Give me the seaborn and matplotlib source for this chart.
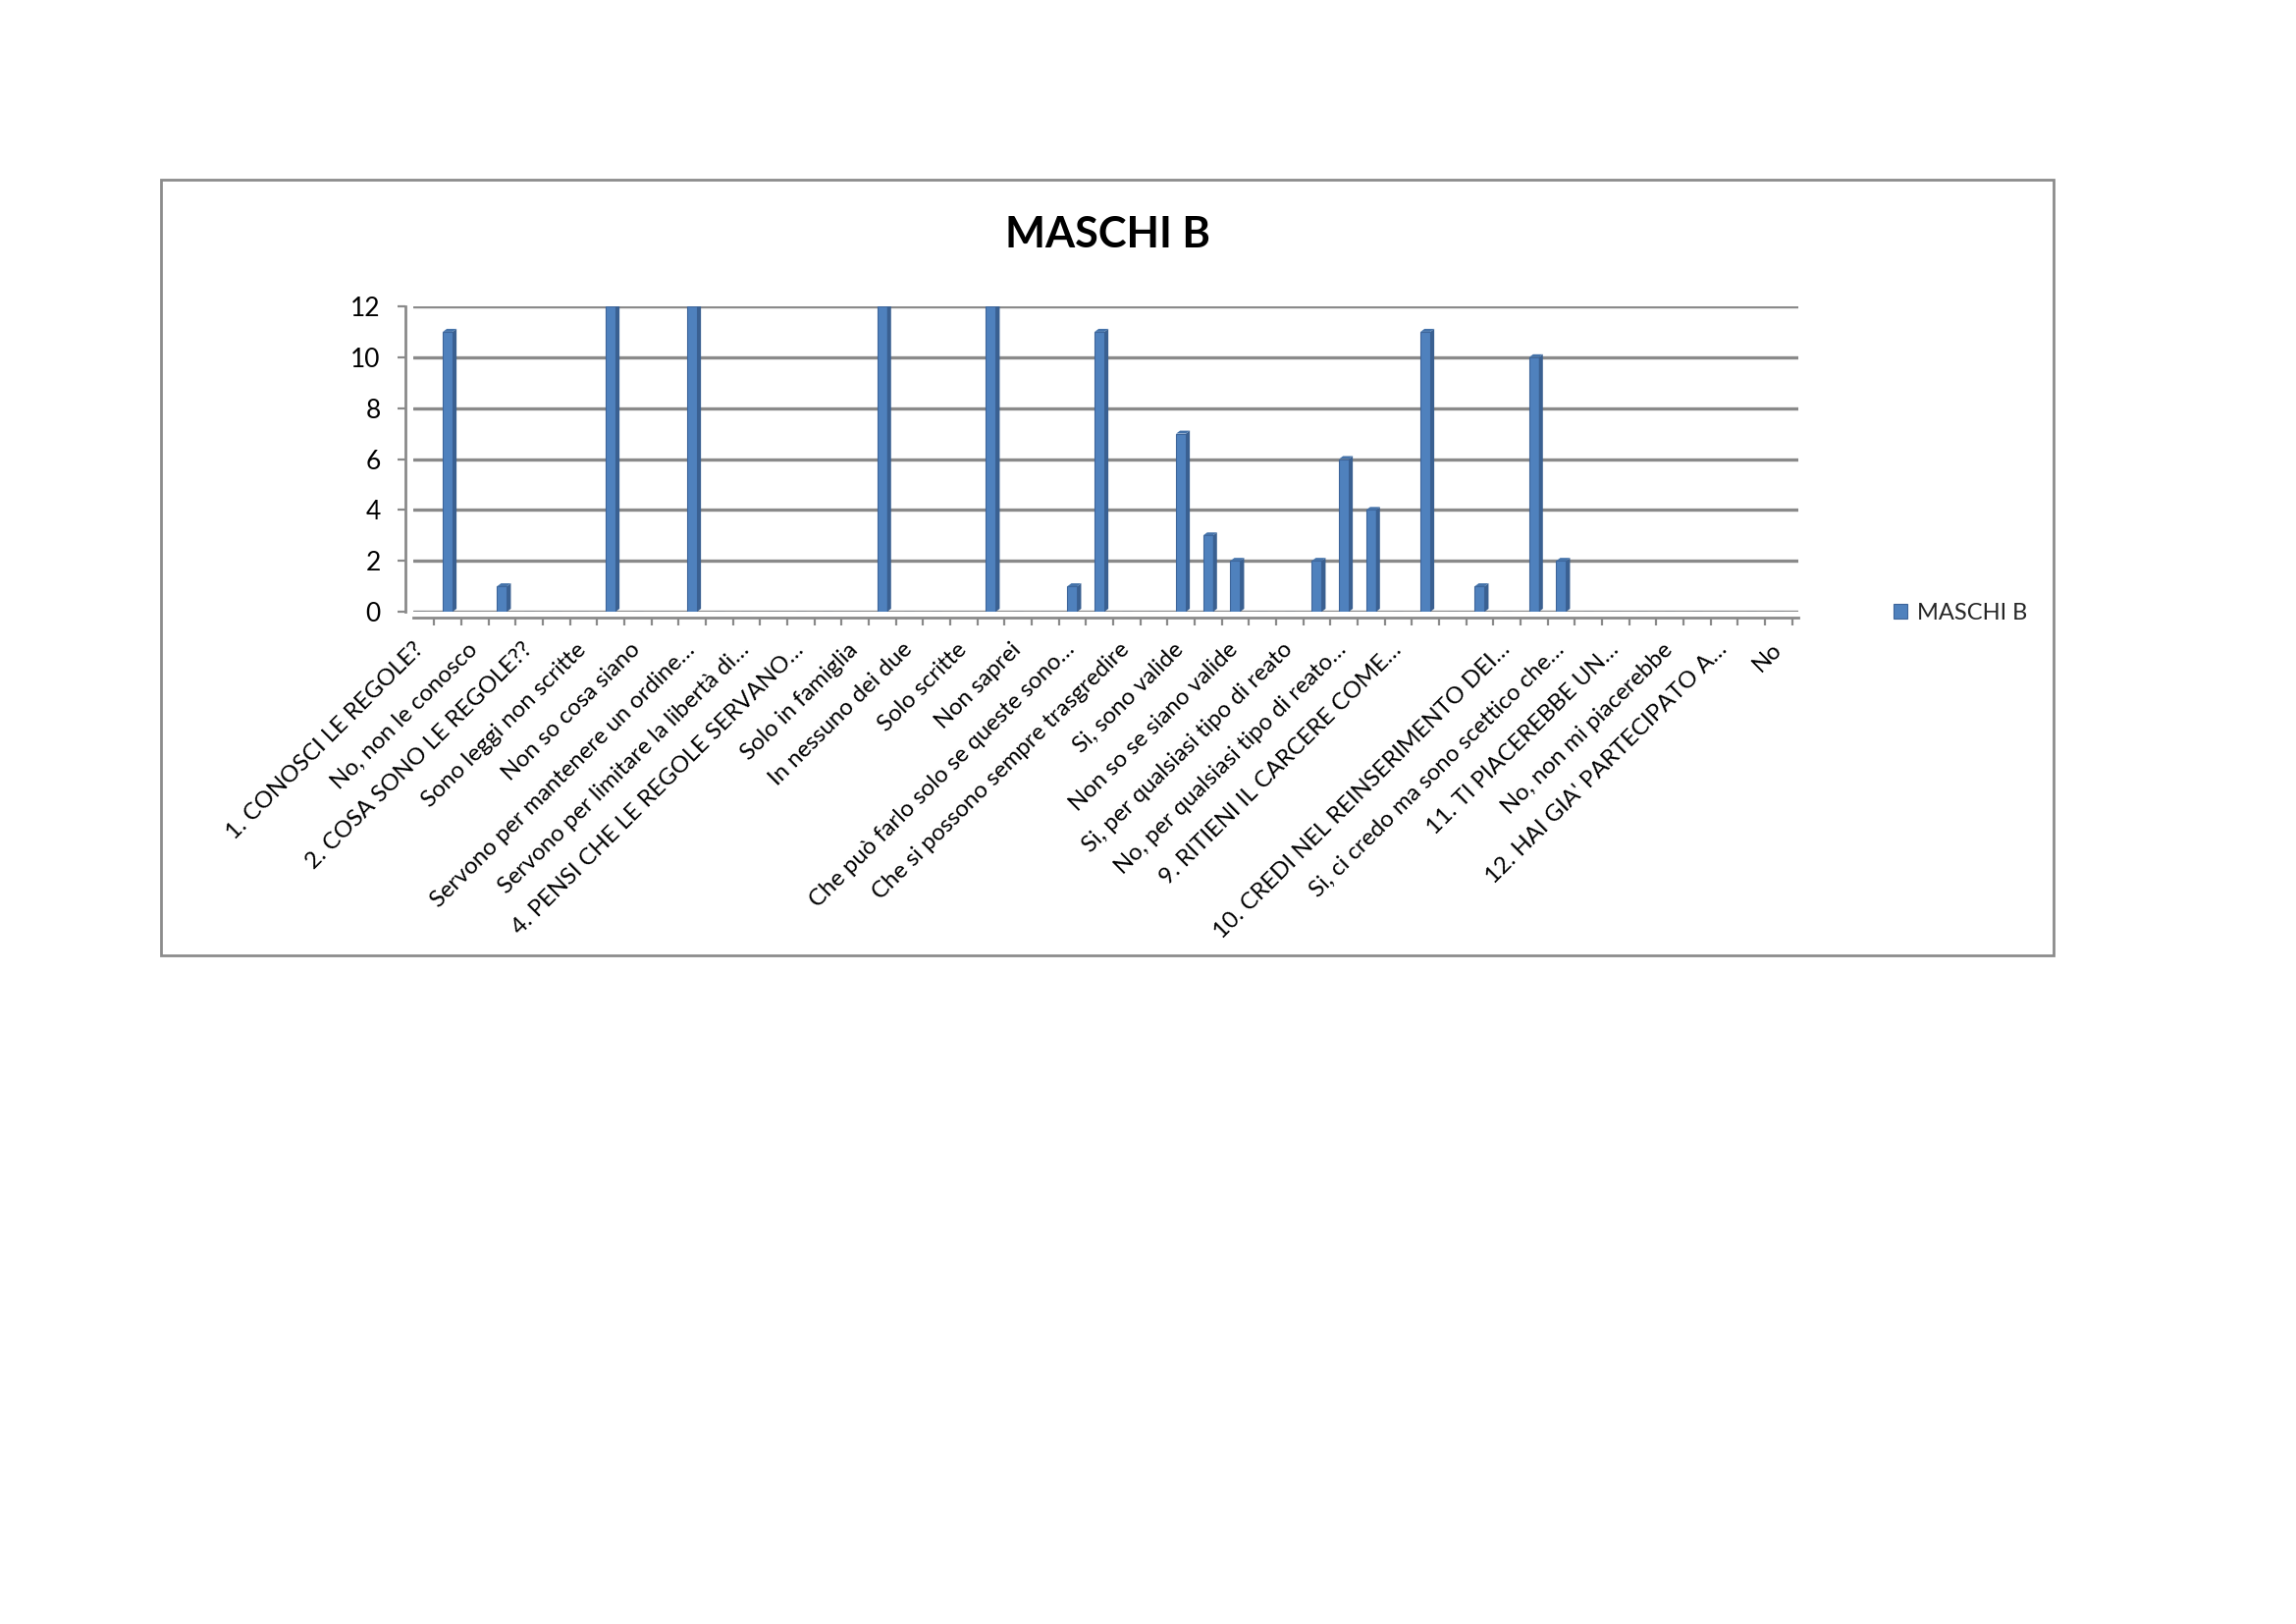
import matplotlib
matplotlib.use("Agg")
import matplotlib.pyplot as plt
import matplotlib.transforms as mtransforms
import seaborn as sns
import pandas as pd
import numpy as np
from matplotlib.patches import Rectangle, Polygon
from matplotlib.ticker import FixedLocator

# every other category carries a label in the original chart (Excel skips the rest)
tick_labels = [
    "1. CONOSCI LE REGOLE?",
    "No, non le conosco",
    "2. COSA SONO LE REGOLE??",
    "Sono leggi non scritte",
    "Non so cosa siano",
    "Servono per mantenere un ordine…",
    "Servono per limitare la libertà di…",
    "4. PENSI CHE LE REGOLE SERVANO…",
    "Solo in famiglia",
    "In nessuno dei due",
    "Solo scritte",
    "Non saprei",
    "Che può farlo solo se queste sono…",
    "Che si possono sempre trasgredire",
    "Si, sono valide",
    "Non so se siano valide",
    "Si, per qualsiasi tipo di reato",
    "No, per qualsiasi tipo di reato…",
    "9. RITIENI IL CARCERE COME…",
    "",
    "10. CREDI NEL REINSERIMENTO DEI…",
    "Si, ci credo ma sono scettico che…",
    "11. TI PIACEREBBE UN…",
    "No, non mi piacerebbe",
    "12. HAI GIA' PARTECIPATO A…",
    "No",
]

values = [
    0, 11, 0, 1, 0, 0, 0, 12, 0, 0,
    12, 0, 0, 0, 0, 0, 0, 12, 0, 0,
    0, 12, 0, 0, 1, 11, 0, 0, 7, 3,
    2, 0, 0, 2, 6, 4, 0, 11, 0, 1,
    0, 10, 2, 0, 0, 0, 0, 0, 0, 0,
    0,
]

series_name = "MASCHI B"
chart_title = "MASCHI B"
y_ticks = [0, 2, 4, 6, 8, 10, 12]

BLUE = "#4F81BD"
SIDE = "#3A6091"
TOP = "#4573AA"
GRID = "#8A8A8A"

df = pd.DataFrame({"cat": list(range(len(values))), "count": values})

sns.set_theme(style="white")
plt.rcParams["font.family"] = ["Lato", "DejaVu Sans"]

W, H, DPI = 2339, 1654, 200
fig = plt.figure(figsize=(W / DPI, H / DPI), dpi=DPI)
fig.patch.set_facecolor("white")

# plot area (back wall of the excel 3d chart)
ax_l, ax_r, ax_b, ax_t = 421, 1832, 623, 312
ax = fig.add_axes([ax_l / W, 1 - ax_b / H, (ax_r - ax_l) / W, (ax_b - ax_t) / H])

sns.barplot(data=df, x="cat", y="count", color=BLUE, saturation=1, width=0.36,
            edgecolor="#3D659A", linewidth=0.4, label=series_name, ax=ax)

# categories sit on the front edge of the floor, a bit left of the back wall
shift = 0.23
ax.set_xlim(-0.5 + shift, len(values) - 0.5 + shift)
ax.set_ylim(0, 12)

# fake 3d depth on each bar
px_x = (ax_r - ax_l) / len(values)
px_y = (ax_b - ax_t) / 12
dx = 4.0 / px_x
dy = 3.0 / px_y
for p in list(ax.patches):
    h = p.get_height()
    if h <= 0:
        continue
    x0 = p.get_x()
    w = p.get_width()
    ax.add_patch(Polygon([(x0 + w, 0), (x0 + w + dx, dy), (x0 + w + dx, h + dy), (x0 + w, h)],
                         closed=True, facecolor=SIDE, edgecolor="none", zorder=3))
    ax.add_patch(Polygon([(x0, h), (x0 + dx, h + dy), (x0 + w + dx, h + dy), (x0 + w, h)],
                         closed=True, facecolor=TOP, edgecolor="none", zorder=3))

# spines first: set_position resets the tick objects
ax.set_xlabel("")
ax.set_ylabel("")
for side in ["top", "right"]:
    ax.spines[side].set_visible(False)
for side in ["left", "bottom"]:
    ax.spines[side].set_color(GRID)
    ax.spines[side].set_linewidth(1.0)
ax.spines["left"].set_position(("outward", 3))
ax.spines["bottom"].set_position(("outward", 2))

ax.yaxis.grid(True, color=GRID, linewidth=1.2)
ax.xaxis.grid(False)
ax.set_axisbelow(True)

ax.xaxis.set_minor_locator(FixedLocator(np.arange(-0.5, len(values), 1.0)))
ax.tick_params(axis="x", which="major", length=0, pad=8)
ax.tick_params(axis="x", which="minor", length=3, width=0.8, color=GRID, bottom=True)
ax.tick_params(axis="y", which="major", length=3, width=0.8, color=GRID, left=True, pad=6)

ax.set_yticks(y_ticks)
ax.set_yticklabels([str(v) for v in y_ticks], fontsize=9.5, color="black")
ax.set_xticks(list(range(0, len(values), 2)))
ax.set_xticklabels(tick_labels, fontsize=8.6, color="black", rotation=45,
                   ha="right", va="top", rotation_mode="anchor")
nudge = mtransforms.ScaledTranslation(-8 / DPI, 0, fig.dpi_scale_trans)
for lab in ax.get_xticklabels():
    lab.set_transform(lab.get_transform() + nudge)

# legend on the right
leg = ax.legend(loc="center left", bbox_to_anchor=(1929 / W, 1 - 624 / H),
                bbox_transform=fig.transFigure, frameon=False, fontsize=8.5,
                handlelength=0.6, handleheight=0.6, handletextpad=0.4,
                borderpad=0, borderaxespad=0)

fig.text(1128 / W, 1 - 239 / H, chart_title, ha="center", va="center",
         fontsize=15.6, fontweight="bold", color="black")

# chart area border
fig.add_artist(Rectangle((163.5 / W, 1 - 973 / H), (2092 - 163.5) / W, (973 - 183) / H,
                         transform=fig.transFigure, fill=False,
                         edgecolor="#8C8C8C", linewidth=1.0))

fig.savefig("out.png", dpi=DPI, facecolor="white")
